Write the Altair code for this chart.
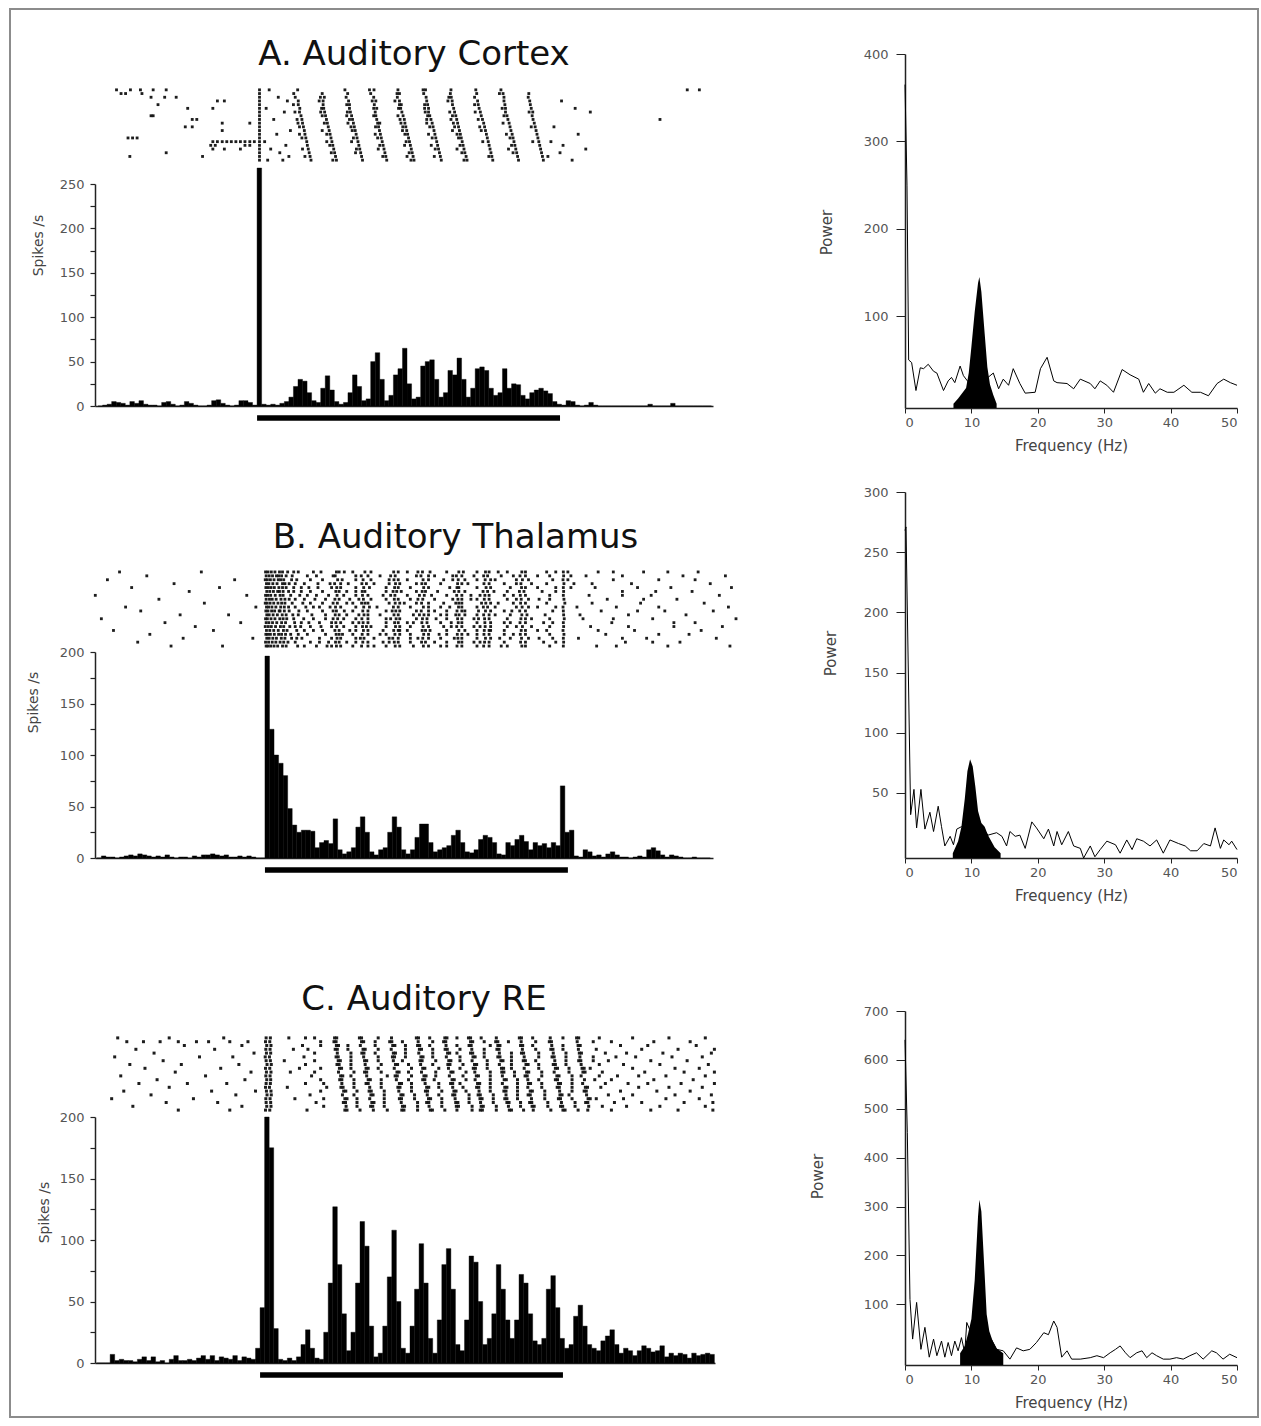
import altair as alt
import pandas as pd

FONT = "DejaVu Sans"
BIN = 15  # ms per PSTH bin

TITLES = ["A. Auditory Cortex", "B. Auditory Thalamus", "C. Auditory RE"]
STIM_ON = [0]
STIM_OFF = [1000]

# ---------------- PSTH (spikes/s), pre = bins before stimulus onset, post = from onset ----------------
A_pre = [0, 1, 2, 5, 4, 3, 1, 5, 3, 6, 2, 1, 1, 0, 4, 5, 2, 0, 1, 5, 3, 1, 0, 0, 1, 6, 7, 3, 1, 0, 1, 6, 6, 4, 1]
A_post = [268, 2, 1, 2, 1, 3, 5,
          10, 22, 30, 28, 15, 6, 4,
          20, 34, 18, 5, 2, 4,
          15, 35, 22, 6, 8,
          50, 60, 30, 6, 12,
          35, 42, 65, 25, 8,
          10, 45, 50, 52, 30, 10,
          15, 40, 35, 54, 30, 10,
          20, 42, 44, 40, 20, 12,
          15, 42, 20, 25, 24, 12, 8,
          15, 18, 20, 17, 14, 5,
          2, 1, 6, 5, 1, 0, 1, 4, 1,
          0, 0, 0, 0, 0, 0, 0, 0, 0, 0, 0,
          2, 0, 0, 0, 0, 3, 0, 0, 0, 0, 0, 0, 0, 0]

B_pre = [0, 2, 1, 1, 0, 1, 2, 3, 2, 4, 3, 2, 1, 2, 1, 3, 1, 0, 1, 1,
         0, 2, 1, 3, 3, 4, 3, 2, 3, 1, 1, 2, 1, 2, 1, 0, 0]
B_post = [196, 125, 100, 92, 80, 48, 32, 25, 27, 27,
          26, 10, 15, 17, 14, 38, 8, 4, 6, 10,
          30, 40, 25, 6, 3, 8, 10, 25, 40, 30,
          8, 4, 8, 20, 33, 33, 15, 6, 8, 10,
          12, 22, 27, 15, 6, 5, 8, 18, 22, 20,
          15, 4, 3, 15, 12, 18, 22, 16, 8, 15,
          12, 14, 10, 15, 12, 70, 25, 27, 2, 1,
          8, 6, 2, 3, 1, 4, 6, 3, 1, 1,
          0, 1, 2, 1, 8, 10, 7, 3, 1, 3,
          2, 1, 0, 0, 1, 0, 0, 0]

C_pre = [0, 0, 0, 7, 2, 3, 2, 2, 1, 3, 5, 2, 5, 1, 2, 0, 3, 6, 2, 2,
         3, 2, 4, 6, 3, 6, 2, 5, 4, 3, 6, 2, 5, 4, 3, 12]
C_post = [45, 200, 175, 28, 3, 2, 4, 2, 5, 15,
          27, 12, 4, 3, 25, 65, 127, 80, 40, 10,
          25, 65, 115, 95, 30, 5, 8, 30, 70, 108,
          50, 12, 8, 30, 60, 97, 65, 20, 8, 35,
          80, 93, 60, 15, 10, 35, 87, 82, 50, 15,
          20, 40, 80, 60, 35, 20, 35, 72, 65, 40,
          18, 15, 20, 60, 71, 45, 20, 12, 15, 38,
          47, 30, 15, 12, 10, 18, 22, 27, 15, 8,
          12, 10, 6, 10, 14, 12, 9, 10, 14, 5,
          8, 6, 8, 7, 4, 8, 6, 7, 8, 7]

# ---------------- Raster spike times (ms), one list per trial ----------------
A_raster = [
    [-464, -418, -385, -343, -300, 8, 40, 134, 290, 371, 386, 465, 548, 556, 640, 722, 805, 1420, 1460],
    [-449, -434, -380, 8, 121, 215, 299, 375, 462, 470, 550, 638, 725, 800, 812, 897],
    [-350, -305, -267, 8, 70, 126, 209, 222, 294, 385, 463, 558, 633, 641, 718, 815, 895],
    [-131, -108, 8, 100, 136, 205, 218, 302, 380, 392, 455, 470, 560, 630, 644, 728, 815, 900, 1005],
    [-327, 8, 120, 136, 218, 296, 305, 387, 470, 476, 553, 563, 645, 718, 730, 818, 902],
    [-229, -146, 8, 30, 141, 213, 220, 305, 385, 395, 467, 474, 553, 566, 649, 733, 809, 820, 905, 1050],
    [8, 90, 125, 140, 210, 223, 298, 308, 390, 478, 555, 566, 636, 652, 720, 737, 820, 898, 910, 1100],
    [-350, -343, 8, 145, 215, 226, 296, 312, 385, 392, 465, 482, 563, 570, 645, 656, 740, 815, 825, 908],
    [-214, -199, 8, 55, 132, 148, 229, 305, 315, 395, 472, 486, 560, 574, 640, 659, 730, 744, 828, 911, 1330],
    [-115, -24, 8, 135, 150, 222, 232, 300, 318, 398, 405, 475, 488, 560, 578, 648, 662, 748, 812, 832, 915],
    [-237, -214, 8, 140, 153, 235, 310, 321, 391, 401, 481, 491, 570, 581, 652, 665, 735, 751, 835, 905, 918, 980],
    [-115, 8, 110, 156, 215, 238, 314, 324, 404, 480, 494, 584, 645, 668, 740, 754, 838, 921],
    [8, 65, 140, 158, 230, 241, 327, 390, 407, 488, 497, 566, 587, 660, 671, 757, 823, 842, 924, 1060],
    [-426, -411, -396, 8, 148, 161, 244, 318, 330, 398, 410, 500, 578, 590, 665, 674, 760, 835, 845, 927],
    [-146, -131, -115, -100, -85, -70, -55, -40, -24, -9, 8, 25, 164, 230, 247, 312, 333, 413,
     492, 503, 593, 677, 745, 763, 848, 910, 930, 970],
    [-153, -138, -40, -24, 8, 95, 166, 240, 250, 336, 405, 416, 487, 506, 575, 596, 670, 680, 766, 840, 851, 933, 1010],
    [-146, -108, -55, 8, 45, 150, 169, 253, 328, 339, 400, 419, 509, 588, 599, 660, 683, 769, 830, 854, 936, 1085],
    [-300, 8, 75, 172, 245, 256, 325, 342, 422, 502, 512, 602, 676, 686, 772, 845, 857, 939, 1000],
    [-420, -180, 8, 105, 158, 175, 259, 345, 415, 425, 495, 515, 585, 605, 690, 765, 775, 860, 942, 960],
    [8, 35, 85, 178, 250, 262, 348, 428, 508, 518, 608, 683, 693, 778, 863, 945, 1040],
]

B_raster = [
    [-480, -210, 2, 10, 21, 33, 48, 75, 110, 160, 236, 290, 330, 425, 470, 520, 600, 640, 700, 728, 800, 848, 930, 985, 1100, 1250, 1430],
    [-390, 4, 14, 25, 38, 55, 90, 140, 232, 318, 380, 430, 515, 560, 632, 690, 722, 780, 842, 900, 986, 1060, 1380, 1520],
    [-520, -100, 1, 8, 18, 30, 44, 62, 105, 190, 240, 324, 410, 426, 522, 590, 638, 727, 760, 850, 950, 984, 1150, 1300],
    [-300, 5, 13, 26, 40, 58, 80, 130, 230, 250, 320, 360, 431, 500, 518, 636, 670, 723, 845, 880, 987, 1020, 1210, 1470],
    [-440, -150, 3, 11, 20, 31, 46, 70, 120, 175, 237, 326, 400, 428, 524, 610, 634, 730, 810, 847, 960, 985, 1090, 1340, 1540],
    [-250, 6, 16, 28, 42, 60, 95, 150, 234, 300, 321, 423, 450, 519, 570, 640, 720, 756, 840, 915, 986, 1180, 1410],
    [-560, -60, 2, 9, 19, 34, 50, 85, 115, 210, 238, 322, 390, 429, 526, 550, 633, 680, 726, 790, 843, 985, 1070, 1275, 1500],
    [-350, 4, 15, 24, 37, 53, 100, 165, 231, 280, 325, 427, 480, 521, 620, 637, 700, 724, 846, 870, 940, 987, 1130, 1360],
    [-200, 1, 7, 17, 29, 43, 66, 125, 239, 270, 319, 340, 430, 460, 517, 630, 650, 729, 770, 844, 990, 1240, 1450],
    [-460, -30, 5, 12, 23, 36, 52, 78, 135, 180, 233, 326, 370, 424, 523, 580, 639, 721, 735, 849, 900, 984, 1030, 1160, 1530],
    [-410, 3, 10, 22, 32, 47, 64, 112, 236, 262, 323, 420, 432, 516, 540, 634, 660, 728, 815, 841, 985, 1110, 1320, 1480],
    [-280, -120, 6, 14, 27, 41, 57, 92, 155, 232, 310, 327, 426, 490, 525, 600, 641, 722, 760, 848, 925, 986, 1200, 1390],
    [-540, 2, 8, 20, 33, 49, 72, 128, 200, 240, 320, 415, 433, 520, 565, 636, 705, 725, 845, 860, 988, 1050, 1280, 1555],
    [-330, -80, 4, 13, 25, 39, 55, 98, 145, 234, 290, 324, 428, 470, 518, 615, 638, 726, 790, 842, 950, 985, 1145, 1420],
    [-230, 1, 11, 21, 35, 51, 82, 118, 185, 237, 322, 350, 431, 522, 590, 633, 690, 727, 850, 880, 986, 1075, 1350, 1510],
    [-500, -170, 5, 16, 29, 44, 61, 105, 160, 231, 280, 325, 425, 445, 519, 545, 640, 724, 745, 846, 930, 984, 1220, 1440],
    [-380, 3, 9, 18, 31, 45, 68, 140, 235, 256, 321, 380, 429, 524, 575, 635, 670, 723, 820, 843, 987, 1125, 1300],
    [-270, -40, 6, 14, 26, 38, 54, 88, 122, 238, 300, 327, 422, 505, 521, 625, 637, 728, 775, 847, 905, 985, 1035, 1260, 1490],
    [-420, 2, 12, 24, 36, 50, 76, 150, 233, 270, 323, 410, 427, 517, 560, 639, 710, 725, 844, 960, 986, 1190, 1370],
    [-310, -140, 4, 10, 19, 30, 42, 58, 108, 205, 236, 319, 360, 430, 523, 600, 634, 722, 800, 848, 985, 1095, 1330, 1535],
]
# further spikes of the same 20 thalamic trials (stimulus period and after)
B_raster_more = [
    [58, 95, 185, 245, 262, 350, 440, 505, 545, 655, 740, 770, 860, 960, 1000, 1150, 1330],
    [45, 70, 170, 225, 300, 340, 415, 500, 540, 620, 650, 735, 820, 860, 940, 1010, 1180],
    [52, 88, 150, 255, 300, 350, 440, 470, 540, 620, 660, 700, 745, 830, 870, 1000, 1420],
    [66, 100, 175, 215, 275, 335, 410, 445, 530, 580, 650, 740, 790, 830, 930, 1080],
    [58, 95, 145, 220, 250, 300, 345, 440, 480, 540, 640, 700, 745, 860, 900, 1010, 1230],
    [48, 78, 120, 190, 245, 270, 330, 400, 435, 500, 530, 625, 660, 735, 800, 855, 960, 1290],
    [60, 140, 170, 260, 300, 340, 415, 470, 510, 600, 650, 710, 740, 820, 860, 940, 1180],
    [66, 80, 130, 200, 245, 310, 350, 400, 440, 505, 560, 650, 680, 740, 800, 830, 905, 1250],
    [55, 90, 150, 190, 225, 290, 330, 410, 445, 500, 540, 590, 640, 715, 745, 820, 860, 930, 1080],
    [64, 100, 160, 215, 250, 300, 345, 440, 480, 540, 610, 650, 700, 760, 830, 870, 960, 1300],
    [50, 80, 140, 190, 225, 290, 340, 400, 445, 500, 560, 600, 650, 705, 745, 790, 860, 950, 1230],
    [70, 110, 200, 245, 270, 340, 380, 440, 510, 540, 580, 630, 660, 700, 740, 810, 865, 1040],
    [60, 95, 160, 225, 260, 300, 340, 400, 445, 500, 535, 600, 650, 690, 740, 800, 880, 940, 1150],
    [68, 120, 180, 220, 250, 310, 340, 400, 440, 490, 535, 580, 650, 700, 745, 810, 860, 920, 1350],
    [62, 100, 150, 220, 260, 300, 335, 400, 445, 480, 540, 615, 650, 710, 745, 800, 830, 940, 1200],
    [73, 130, 190, 245, 300, 340, 390, 440, 470, 530, 600, 660, 700, 740, 790, 860, 900, 1100],
    [55, 85, 110, 200, 245, 290, 340, 400, 445, 480, 540, 600, 650, 700, 740, 790, 860, 940, 1400],
    [66, 105, 180, 220, 250, 315, 360, 410, 440, 480, 540, 580, 650, 700, 745, 810, 870, 950, 1180],
    [62, 100, 180, 210, 245, 300, 340, 390, 440, 480, 530, 600, 650, 690, 740, 790, 860, 920, 1280],
    [70, 130, 170, 220, 250, 290, 340, 400, 445, 490, 540, 580, 650, 700, 740, 780, 860, 940, 1160],
]

C_raster = [
    [-470, -300, -120, 20, 34, 95, 150, 180, 246, 253, 328, 335, 390, 434, 516, 523, 560, 610, 617, 650, 688, 695, 730, 780, 856, 863, 900, 958, 1000, 1045, 1052, 1120, 1230, 1350, 1470],
    [-440, -385, -330, -270, -210, -170, -100, -40, 18, 32, 200, 244, 251, 335, 342, 380, 428, 435, 470, 522, 570, 606, 613, 695, 702, 740, 778, 785, 820, 862, 910, 955, 962, 1047, 1100, 1160, 1300, 1420],
    [-250, -60, 22, 36, 140, 200, 252, 259, 290, 331, 380, 438, 445, 480, 520, 527, 560, 614, 650, 690, 697, 760, 785, 792, 860, 867, 900, 963, 1000, 1050, 1057, 1190, 1280, 1440],
    [-410, -150, 19, 33, 110, 158, 248, 255, 290, 340, 347, 390, 433, 480, 526, 533, 570, 611, 618, 660, 699, 740, 782, 789, 866, 910, 960, 967, 1000, 1051, 1110, 1260, 1380, 1500],
    [-350, -20, 21, 35, 180, 255, 300, 336, 343, 380, 440, 447, 480, 524, 570, 619, 626, 650, 695, 702, 740, 790, 830, 863, 870, 920, 968, 1010, 1054, 1061, 1140, 1210, 1330, 1490],
    [-480, -200, -90, 17, 31, 145, 251, 258, 300, 342, 390, 437, 444, 480, 531, 538, 570, 615, 660, 703, 710, 740, 785, 792, 830, 872, 920, 964, 971, 1010, 1056, 1100, 1175, 1240, 1360, 1460],
    [-320, 20, 34, 80, 180, 258, 265, 300, 345, 352, 390, 440, 470, 528, 535, 580, 623, 630, 660, 700, 750, 795, 802, 830, 869, 876, 910, 973, 1010, 1052, 1059, 1100, 1150, 1290, 1410],
    [-430, -260, -70, 23, 37, 150, 254, 261, 300, 347, 400, 447, 454, 490, 530, 570, 620, 627, 670, 708, 715, 750, 790, 830, 878, 885, 920, 968, 975, 1010, 1060, 1120, 1200, 1320, 1480],
    [-380, -130, 18, 32, 130, 200, 262, 269, 300, 350, 357, 390, 443, 500, 537, 544, 590, 622, 660, 704, 711, 750, 797, 804, 830, 872, 920, 975, 982, 1020, 1063, 1070, 1090, 1230, 1370, 1450],
    [-280, -30, 21, 36, 100, 180, 259, 310, 345, 352, 400, 452, 459, 490, 533, 580, 630, 637, 680, 709, 760, 798, 805, 840, 880, 887, 930, 971, 1020, 1066, 1073, 1130, 1270, 1400, 1500],
    [-460, -180, 19, 33, 170, 266, 273, 300, 352, 420, 446, 453, 500, 541, 548, 580, 625, 670, 714, 721, 760, 800, 840, 875, 882, 930, 980, 987, 1030, 1060, 1120, 1180, 1250, 1340, 1470],
    [-340, -50, 22, 35, 200, 263, 270, 310, 357, 364, 400, 450, 490, 537, 544, 575, 634, 641, 680, 710, 760, 806, 813, 850, 884, 920, 975, 982, 1030, 1071, 1105, 1160, 1300, 1430],
    [-400, -240, -110, 20, 34, 150, 210, 270, 310, 350, 357, 400, 460, 467, 500, 545, 590, 629, 636, 660, 718, 725, 760, 800, 850, 886, 893, 930, 985, 992, 1030, 1065, 1140, 1215, 1280, 1390, 1500],
    [-300, 18, 31, 90, 220, 267, 274, 310, 362, 400, 455, 462, 500, 550, 557, 590, 636, 670, 715, 722, 760, 808, 815, 850, 884, 930, 981, 988, 1030, 1074, 1081, 1125, 1250, 1350, 1460],
    [-450, -160, -15, 21, 36, 200, 276, 283, 320, 360, 367, 410, 458, 500, 546, 553, 600, 640, 647, 680, 723, 760, 805, 812, 850, 892, 899, 940, 989, 1030, 1070, 1077, 1190, 1310, 1420],
    [-360, -80, 23, 37, 165, 272, 310, 366, 373, 410, 465, 472, 510, 552, 590, 636, 643, 690, 720, 727, 770, 812, 850, 885, 892, 940, 990, 997, 1020, 1078, 1150, 1230, 1370, 1490],
    [-490, -220, 19, 33, 115, 210, 280, 287, 320, 362, 410, 460, 467, 510, 556, 563, 600, 644, 690, 726, 733, 770, 808, 815, 850, 896, 940, 985, 992, 1030, 1083, 1090, 1110, 1200, 1340, 1450],
    [-310, -140, 20, 35, 185, 275, 282, 320, 369, 376, 410, 466, 520, 550, 557, 600, 646, 653, 690, 728, 770, 815, 822, 860, 890, 897, 950, 995, 1040, 1075, 1082, 1170, 1260, 1400, 1495],
    [-420, -60, 22, 36, 210, 284, 320, 365, 372, 410, 470, 477, 520, 558, 600, 648, 655, 700, 730, 737, 780, 820, 860, 898, 905, 950, 992, 999, 1040, 1085, 1130, 1210, 1320, 1470],
    [-270, -100, 18, 32, 155, 280, 287, 330, 374, 420, 468, 475, 520, 562, 569, 610, 650, 700, 727, 734, 780, 823, 830, 870, 902, 960, 1000, 1007, 1050, 1082, 1160, 1290, 1380, 1495],
]

# ---------------- Power spectra ----------------
A_freq = [0, 0.3, 0.55, 1.0, 1.65, 2.3, 2.8, 3.5, 4.3, 4.8, 5.8, 6.5, 7.0, 7.5, 8.3, 8.8, 9.5, 10.5, 11.5,
          12.5, 13.3, 14.1, 14.8, 15.6, 16.3, 17.3, 18.1, 19.6, 20.4, 21.4, 22.4, 22.9, 24.4, 25.4, 26.4,
          27.9, 28.6, 29.4, 30.4, 31.4, 32.7, 33.9, 35.2, 35.9, 36.7, 37.7, 38.4, 39.5, 40.5, 42.0, 43.2,
          44.5, 45.7, 47.0, 48.0, 49.0, 50.0]
A_pow = [365, 250, 50, 47, 15, 41, 40, 45, 37, 35, 15, 26, 30, 24, 43, 32, 25, 20, 28,
         30, 35, 17, 28, 21, 40, 23, 12, 13, 40, 53, 26, 24, 23, 17, 28,
         23, 17, 26, 21, 13, 39, 33, 28, 13, 23, 12, 17, 13, 13, 21, 13,
         13, 9, 23, 28, 24, 21]
A_peak_freq = [7.3, 8.0, 8.6, 9.2, 9.6, 10.0, 10.5, 11.0, 11.2, 11.5, 12.0, 12.4, 12.8, 13.3, 13.8]
A_peak_pow = [0, 6, 12, 18, 35, 65, 105, 138, 145, 128, 80, 42, 22, 10, 0]

B_freq = [0, 0.15, 0.85, 1.35, 1.75, 2.4, 3.0, 3.75, 4.3, 5.0, 5.5, 6.0, 6.8, 7.3, 7.8, 8.5, 9.5, 10.5,
          11.5, 12.5, 13.8, 14.6, 15.3, 15.8, 16.6, 17.3, 18.1, 19.1, 19.8, 20.9, 21.6, 22.4, 22.9, 23.6,
          24.6, 25.4, 26.4, 26.9, 27.9, 28.6, 29.4, 30.4, 31.7, 32.4, 33.4, 34.2, 34.9, 35.9, 36.9, 37.9,
          38.9, 39.9, 41.2, 42.2, 43.0, 44.0, 45.0, 46.0, 46.7, 47.5, 48.0, 48.8, 49.2, 50.0]
B_pow = [268, 271, 32, 53, 21, 53, 20, 34, 18, 39, 22, 6, 14, 7, 20, 22, 20, 18,
         22, 15, 17, 14, 6, 18, 14, 15, 4, 26, 21, 12, 20, 6, 18, 7,
         18, 6, 4, -4, 6, -3, 3, 10, 7, 0, 11, 3, 12, 10, 6, 11,
         0, 11, 8, 6, 2, 2, 8, 6, 21, 4, 11, 7, 10, 3]
B_peak_freq = [7.2, 8.0, 8.5, 9.0, 9.4, 9.8, 10.2, 10.6, 11.0, 11.5, 12.0, 12.5, 13.0, 13.5, 14.4]
B_peak_pow = [0, 10, 22, 45, 68, 78, 72, 55, 35, 25, 22, 15, 10, 5, 0]

C_freq = [0, 0.35, 0.75, 1.15, 1.75, 2.4, 3.0, 3.65, 4.3, 4.8, 5.5, 6.0, 6.5, 7.0, 7.5, 8.0, 8.5, 9.0, 9.3,
          10.0, 11.0, 12.0, 13.0, 13.8, 14.8, 15.8, 16.8, 17.8, 18.8, 19.8, 20.9, 21.6, 22.4, 22.9, 23.6,
          24.4, 25.1, 26.4, 27.9, 28.9, 29.9, 30.9, 31.7, 32.4, 33.2, 33.9, 34.9, 35.7, 36.4, 37.2, 37.9,
          38.9, 39.9, 40.9, 41.9, 42.9, 43.9, 44.9, 46.2, 46.9, 47.9, 48.9, 50.0]
C_pow = [641, 451, 110, 29, 104, 8, 53, -8, 29, -5, 25, -8, 22, -5, 25, 5, 32, 1, 63,
         40, 30, 30, 29, 8, 5, -12, 11, 5, 8, 22, 42, 38, 66, 53, -8,
         5, -12, -12, -9, -5, -9, 1, 8, 15, 1, -9, 1, 5, -9, 1, -5,
         -12, -12, -9, -12, -5, 1, -12, 5, 1, -12, -2, -9]
C_peak_freq = [8.3, 9.0, 9.5, 10.0, 10.5, 11.0, 11.2, 11.5, 12.0, 12.3, 12.7, 13.2, 13.8, 14.8]
C_peak_pow = [0, 15, 40, 70, 150, 280, 314, 290, 160, 80, 45, 25, 10, 0]

# ---------------- helpers ----------------
LABEL_COLOR = "#555555"
TITLE_COLOR = "#444444"
AXIS_COLOR = "#222222"


def psth_df(pre, post):
    n = len(pre)
    t0 = [-BIN * (n - i) for i in range(n)] + [BIN * i for i in range(len(post))]
    return pd.DataFrame({"t0": t0, "t1": [t + BIN for t in t0], "rate": list(pre) + list(post)})


def raster_df(rows):
    recs = [{"trial": r, "t": t} for r, times in enumerate(rows) for t in times]
    return pd.DataFrame(recs)


def spacer(h, frame=False):
    base = alt.Chart(pd.DataFrame({"a": [0]}))
    sp = base.mark_point(opacity=0).encode(x=alt.value(0), y=alt.value(0))
    if frame:
        border = base.mark_rect(fillOpacity=0, stroke="#8c8c8c", strokeWidth=2).encode(
            x=alt.value(-85), x2=alt.value(1163), y=alt.value(-45), y2=alt.value(1363)
        )
        return alt.layer(sp, border).properties(width=10, height=h)
    return sp.properties(width=10, height=h)


def raster_chart(rows, domain, width, height, title, dx, offset, size):
    df = raster_df(rows)
    return alt.Chart(df).mark_square(size=size, color="#111111", opacity=0.95).encode(
        x=alt.X("t:Q", scale=alt.Scale(domain=domain, nice=False, zero=False), axis=None),
        y=alt.Y("trial:Q", scale=alt.Scale(domain=[-0.5, len(rows) - 0.5], reverse=True, nice=False, zero=False),
                axis=None),
    ).properties(
        width=width, height=height,
        title=alt.TitleParams(text=title, font=FONT, fontSize=34, fontWeight="normal", color="#111111",
                              anchor="middle", frame="group", dx=dx, dy=34, offset=offset,
                              baseline="alphabetic"),
    )


def psth_chart(pre, post, domain, width, height, ymax, tx, ty):
    df = psth_df(pre, post)
    xs = alt.Scale(domain=domain, nice=False, zero=False)
    yaxis = alt.Axis(
        values=list(range(0, ymax + 1, 25)),
        labelExpr="datum.value % 50 == 0 ? datum.label : ''",
        labelFont=FONT, labelFontSize=13, labelColor=LABEL_COLOR, labelPadding=6,
        tickSize=5, tickColor=AXIS_COLOR, tickWidth=1.2,
        domainColor=AXIS_COLOR, domainWidth=1.5, grid=False,
        title="Spikes /s", titleFont=FONT, titleFontSize=14, titleFontWeight="normal", titleColor=TITLE_COLOR,
        titleAngle=270, titleAlign="center", titleBaseline="middle", titleX=tx, titleY=ty,
    )
    xaxis = alt.Axis(ticks=False, labels=False, title=None, domainColor=AXIS_COLOR, domainWidth=1.5, grid=False)
    bars = alt.Chart(df).mark_rect(color="black", stroke="black", strokeWidth=0.4).encode(
        x=alt.X("t0:Q", scale=xs, axis=xaxis),
        x2="t1:Q",
        y=alt.Y("rate:Q", scale=alt.Scale(domain=[0, ymax], nice=False), axis=yaxis),
        y2=alt.datum(0),
    )
    stim = alt.Chart(pd.DataFrame({"on": STIM_ON, "off": STIM_OFF})).mark_rule(
        color="black", strokeWidth=5.5).encode(
        x=alt.X("on:Q", scale=xs, axis=xaxis),
        x2="off:Q",
        y=alt.value(height + 12),
    )
    return alt.layer(bars, stim).properties(width=width, height=height)


def spectrum_chart(freq, pw, pf, pp, ymin, ymax, yvals, height, tx, ty):
    line_df = pd.DataFrame({"f": freq, "p": pw})
    peak_df = pd.DataFrame({"f": pf, "p": pp})
    xs = alt.Scale(domain=[0, 50], nice=False, zero=False)
    ys = alt.Scale(domain=[ymin, ymax], nice=False, zero=False)
    xaxis = alt.Axis(
        values=[0, 10, 20, 30, 40, 50], labelFont=FONT, labelFontSize=13, labelColor=LABEL_COLOR,
        labelPadding=3, tickSize=5, tickColor=AXIS_COLOR, domainColor=AXIS_COLOR, domainWidth=1.5, grid=False,
        title="Frequency (Hz)", titleFont=FONT, titleFontSize=15, titleFontWeight="normal",
        titleColor=TITLE_COLOR, titleBaseline="middle", titleY=37,
    )
    yaxis = alt.Axis(
        values=yvals, labelFont=FONT, labelFontSize=13, labelColor=LABEL_COLOR, labelPadding=8,
        tickSize=9, tickColor=AXIS_COLOR, domainColor=AXIS_COLOR, domainWidth=1.5, grid=False,
        title="Power", titleFont=FONT, titleFontSize=15, titleFontWeight="normal", titleColor=TITLE_COLOR,
        titleAngle=270, titleAlign="center", titleBaseline="middle", titleX=tx, titleY=ty,
    )
    line = alt.Chart(line_df).mark_line(color="black", strokeWidth=1).encode(
        x=alt.X("f:Q", scale=xs, axis=xaxis), y=alt.Y("p:Q", scale=ys, axis=yaxis))
    peak = alt.Chart(peak_df).mark_area(color="black", opacity=1).encode(
        x=alt.X("f:Q", scale=xs, axis=xaxis), y=alt.Y("p:Q", scale=ys, axis=yaxis), y2=alt.datum(ymin))
    return alt.layer(line, peak).properties(width=332, height=height)


# ---------------- panels ----------------
domA = [-535, 1505]
domB = [-561, 1479]
domB_r = [-561, 1555]
domC = [-545, 1502]

B_all = [a + b for a, b in zip(B_raster, B_raster_more)]

rA = raster_chart(A_raster, domA, 618, 74, TITLES[0], 10, 23, 8)
hA = psth_chart(A_pre, A_post, domA, 618, 222, 250, -57, 61)
rB = raster_chart(B_all, domB_r, 641, 78, TITLES[1], 40, 22, 8)
hB = psth_chart(B_pre, B_post, domB, 618, 206, 200, -62, 50)
rC = raster_chart(C_raster, domC, 620, 76, TITLES[2], 19, 26, 9)
hC = psth_chart(C_pre, C_post, domC, 620, 246, 200, -51, 95)

pA = spectrum_chart(A_freq, A_pow, A_peak_freq, A_peak_pow, -5, 400, [100, 200, 300, 400], 354, -79, 178)
pB = spectrum_chart(B_freq, B_pow, B_peak_freq, B_peak_pow, -4, 300, [50, 100, 150, 200, 250, 300], 366, -75, 161)
pC = spectrum_chart(C_freq, C_pow, C_peak_freq, C_peak_pow, -24, 700, [100, 200, 300, 400, 500, 600, 700], 354, -88, 165)

left_col = alt.vconcat(
    spacer(34, frame=True), rA, spacer(22), hA, spacer(164), rB, spacer(4), hB, spacer(178), rC, spacer(5), hC,
    spacing=0, bounds="flush",
)
right_col = alt.vconcat(pA, spacer(84), pB, spacer(153), pC, spacing=0, bounds="flush")

chart = alt.hconcat(left_col, right_col, spacing=810, bounds="flush").properties(
    padding={"left": 9, "top": 8, "right": 0, "bottom": 0},
    background="white",
).configure_view(strokeWidth=0).configure_axis(grid=False)

chart.save("out.html", embed_options={"renderer": "svg", "actions": False})
